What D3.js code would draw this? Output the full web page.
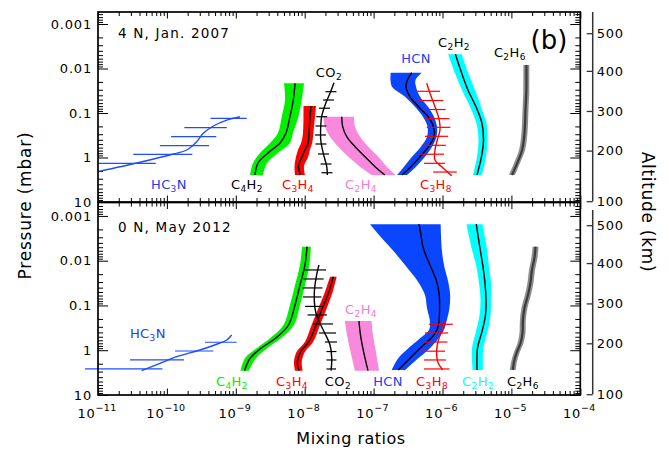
<!DOCTYPE html>
<html>
<head>
<meta charset="utf-8">
<script src="https://cdn.jsdelivr.net/npm/d3@7"></script>
<style>
  body { margin: 0; background: #fff; }
  svg { display: block; font-family: "DejaVu Sans", sans-serif; }
</style>
</head>
<body>
<svg id="chart" width="669" height="452"></svg>
<script>
// ---------------------------------------------------------------
// Vertical profiles of Titan's stratospheric composition.
// Band profiles: [pressure (mbar), low, retrieved, high]
// Error-bar profiles: line [pressure, value], bars [pressure, low, high]
// ---------------------------------------------------------------

const panelTitles = ["4 N, Jan. 2007", "0 N, May 2012"];
const yTickValues = [0.001, 0.01, 0.1, 1, 10];
const yTickLabels = ["0.001", "0.01", "0.1", "1", "10"];
const xTickExponents = [-11, -10, -9, -8, -7, -6, -5, -4];
const altitudeKm = [100, 200, 300, 400, 500];
const altitudePressure = [9.6, 0.70, 0.090, 0.0113, 0.00161];

// ---- 4 N, Jan. 2007 ----
const hc3nLine07 = [[2.08, 1.0e-11], [1.28, 4.07e-11], [0.834, 1.24e-10], [0.678, 1.94e-10],
  [0.441, 2.71e-10], [0.286, 3.37e-10], [0.196, 4.72e-10], [0.144, 7.4e-10], [0.121, 1.15e-9]];
const hc3nBars07 = [[0.1315, 4.3e-10, 1.44e-9], [0.214, 1.79e-10, 7.4e-10], [0.341, 1.15e-10, 5.2e-10],
  [0.543, 7.9e-11, 4.1e-10], [0.847, 3.25e-11, 2.34e-10], [1.35, 1.0e-11, 6.9e-11]];
const c4h2_07 = [[0.0215, 5.0e-9, 7.24e-9, 9.77e-9], [0.051, 5.18e-9, 6.83e-9, 9.06e-9],
  [0.121, 4.64e-9, 6.11e-9, 8.08e-9], [0.281, 4.09e-9, 5.35e-9, 6.76e-9],
  [0.472, 3.14e-9, 4.38e-9, 6.11e-9], [0.79, 2.25e-9, 2.93e-9, 4.09e-9],
  [1.33, 1.78e-9, 2.10e-9, 2.84e-9], [2.47, 1.61e-9, 1.90e-9, 2.48e-9]];
const c3h4_07 = [[0.07, 9.6e-9, 1.23e-8, 1.46e-8], [0.281, 9.45e-9, 1.15e-8, 1.34e-8],
  [0.48, 8.83e-9, 1.12e-8, 1.28e-8], [0.678, 7.98e-9, 1.01e-8, 1.19e-8],
  [0.97, 7.47e-9, 9.14e-9, 1.12e-8], [1.55, 7.12e-9, 8.12e-9, 9.77e-9],
  [2.47, 7.24e-9, 8.68e-9, 1.01e-8]];
const co2Line07 = [[0.0208, 2.66e-8], [0.036, 2.33e-8], [0.0605, 2.02e-8], [0.121, 1.76e-8],
  [0.203, 1.71e-8], [0.405, 1.71e-8], [0.805, 1.86e-8], [1.61, 2.09e-8], [2.47, 2.13e-8]];
const co2Bars07 = [[0.0332, 2.00e-8, 2.89e-8], [0.051, 1.84e-8, 2.66e-8], [0.078, 1.61e-8, 2.33e-8],
  [0.121, 1.47e-8, 2.12e-8], [0.196, 1.43e-8, 2.06e-8], [0.312, 1.41e-8, 2.04e-8],
  [0.497, 1.43e-8, 2.07e-8], [0.834, 1.56e-8, 2.25e-8], [1.40, 1.70e-8, 2.45e-8],
  [2.20, 1.75e-8, 2.53e-8]];
const c2h4_07 = [[0.121, 1.86e-8, 3.45e-8, 5.2e-8], [0.203, 1.97e-8, 3.56e-8, 5.38e-8],
  [0.341, 2.33e-8, 4.07e-8, 6.35e-8], [0.572, 3.07e-8, 5.38e-8, 8.37e-8],
  [0.96, 4.30e-8, 7.5e-8, 1.17e-7], [1.61, 6.35e-8, 1.05e-7, 1.55e-7],
  [2.47, 9.39e-8, 1.46e-7, 2.09e-7]];
const hcn07 = [[0.0124, 1.77e-7, 3.57e-7, 4.99e-7], [0.0181, 1.76e-7, 3.10e-7, 4.06e-7],
  [0.0256, 1.85e-7, 2.95e-7, 4.13e-7], [0.0430, 2.86e-7, 3.37e-7, 4.72e-7],
  [0.0721, 3.99e-7, 4.49e-7, 6.16e-7], [0.121, 5.21e-7, 6.16e-7, 7.53e-7],
  [0.203, 6.06e-7, 7.40e-7, 8.32e-7], [0.341, 5.96e-7, 7.53e-7, 8.18e-7],
  [0.572, 4.87e-7, 6.27e-7, 7.05e-7], [0.96, 3.61e-7, 4.72e-7, 5.57e-7],
  [1.61, 2.76e-7, 3.49e-7, 4.13e-7], [2.47, 2.19e-7, 2.58e-7, 3.05e-7]];
const c3h8Line07 = [[0.0215, 5.90e-7], [0.036, 6.58e-7], [0.0721, 7.78e-7], [0.144, 8.97e-7],
  [0.241, 9.19e-7], [0.405, 8.40e-7], [0.678, 7.78e-7], [1.14, 7.78e-7], [1.61, 9.73e-7],
  [2.56, 1.36e-6]];
const c3h8Bars07 = [[0.0325, 3.99e-7, 9.19e-7], [0.0524, 4.45e-7, 1.03e-6], [0.0834, 4.99e-7, 1.11e-6],
  [0.134, 5.57e-7, 1.26e-6], [0.21, 5.90e-7, 1.30e-6], [0.334, 5.57e-7, 1.21e-6],
  [0.532, 4.99e-7, 1.12e-6], [0.843, 4.72e-7, 1.05e-6], [1.35, 5.39e-7, 1.09e-6],
  [2.12, 7.35e-7, 1.61e-6]];
const c2h2_07 = [[0.0048, 1.21e-6, 1.54e-6, 1.90e-6], [0.0128, 1.52e-6, 1.90e-6, 2.37e-6],
  [0.0304, 1.92e-6, 2.34e-6, 2.96e-6], [0.0721, 2.51e-6, 3.06e-6, 3.62e-6],
  [0.170, 3.11e-6, 3.74e-6, 4.35e-6], [0.405, 3.33e-6, 3.94e-6, 4.50e-6],
  [0.96, 3.17e-6, 3.68e-6, 4.28e-6], [2.47, 2.77e-6, 3.17e-6, 3.74e-6]];
const c2h6_07 = [[0.00834, 1.49e-5, 1.65e-5, 1.82e-5], [0.0304, 1.49e-5, 1.65e-5, 1.82e-5],
  [0.0857, 1.45e-5, 1.60e-5, 1.77e-5], [0.281, 1.40e-5, 1.55e-5, 1.71e-5],
  [0.678, 1.29e-5, 1.43e-5, 1.58e-5], [1.35, 1.09e-5, 1.21e-5, 1.33e-5],
  [2.47, 9.22e-6, 1.02e-5, 1.13e-5]];

// ---- 0 N, May 2012 ----
const hc3nLine12 = [[2.86, 4.30e-11], [1.96, 7.94e-11], [1.39, 1.39e-10], [0.987, 3.02e-10],
  [0.736, 5.28e-10], [0.59, 7.4e-10], [0.456, 8.7e-10]];
const hc3nBars12 = [[2.62, 6.5e-12, 8.6e-11], [1.65, 2.91e-11, 1.77e-10], [1.04, 1.31e-10, 4.72e-10],
  [0.664, 3.57e-10, 1.03e-9]];
const c4h2_12 = [[0.00485, 9.14e-9, 1.08e-8, 1.23e-8], [0.01245, 8.55e-9, 1.01e-8, 1.17e-8],
  [0.0348, 7.24e-9, 8.55e-9, 1.01e-8], [0.0975, 6.11e-9, 7.24e-9, 8.55e-9],
  [0.273, 4.92e-9, 5.82e-9, 6.99e-9], [0.541, 3.14e-9, 3.77e-9, 4.53e-9],
  [0.904, 2.01e-9, 2.32e-9, 2.84e-9], [1.51, 1.36e-9, 1.61e-9, 1.96e-9],
  [2.86, 1.17e-9, 1.34e-9, 1.55e-9]];
const c3h4_12 = [[0.0227, 2.33e-8, 2.60e-8, 2.91e-8], [0.0492, 1.97e-8, 2.25e-8, 2.55e-8],
  [0.1156, 1.58e-8, 1.80e-8, 2.09e-8], [0.273, 1.26e-8, 1.46e-8, 1.67e-8],
  [0.644, 1.01e-8, 1.15e-8, 1.33e-8], [1.08, 7.65e-9, 8.76e-9, 1.01e-8],
  [1.80, 6.99e-9, 7.82e-9, 9.06e-9], [2.86, 7.24e-9, 8.25e-9, 9.36e-9]];
const co2Line12 = [[0.01245, 1.61e-8], [0.0208, 1.49e-8], [0.0492, 1.38e-8], [0.1156, 1.41e-8],
  [0.193, 1.54e-8], [0.385, 1.91e-8], [0.763, 2.33e-8], [1.51, 2.47e-8], [2.86, 2.41e-8]];
const co2Bars12 = [[0.0161, 1.01e-8, 2.04e-8], [0.0256, 9.6e-9, 1.88e-8], [0.0406, 9.28e-9, 1.81e-8],
  [0.0646, 9.45e-9, 1.75e-8], [0.105, 1.01e-8, 1.84e-8], [0.163, 1.10e-8, 2.11e-8],
  [0.259, 1.32e-8, 2.58e-8], [0.412, 1.61e-8, 2.85e-8], [0.655, 1.97e-8, 2.94e-8],
  [1.07, 2.07e-8, 2.89e-8], [1.65, 2.07e-8, 2.89e-8], [2.62, 2.07e-8, 2.85e-8]];
const c2h4_12 = [[0.222, 3.84e-8, 6.13e-8, 9.33e-8], [0.456, 4.11e-8, 6.45e-8, 9.8e-8],
  [1.08, 4.62e-8, 7.15e-8, 1.08e-7], [2.86, 5.38e-8, 8.29e-8, 1.20e-7]];
const hcn12 = [[0.00153, 8.89e-8, 4.56e-7, 9.41e-7], [0.00266, 1.20e-7, 4.87e-7, 9.51e-7],
  [0.00527, 1.79e-7, 5.26e-7, 9.73e-7], [0.01245, 2.86e-7, 6.58e-7, 1.05e-6],
  [0.0294, 4.41e-7, 8.23e-7, 1.21e-6], [0.0582, 5.57e-7, 8.97e-7, 1.29e-6],
  [0.1156, 5.96e-7, 9.06e-7, 1.26e-6], [0.230, 6.58e-7, 8.89e-7, 1.14e-6],
  [0.352, 6.36e-7, 8.32e-7, 1.05e-6], [0.541, 4.72e-7, 6.81e-7, 8.76e-7],
  [0.904, 3.19e-7, 4.72e-7, 6.58e-7], [1.51, 2.28e-7, 3.37e-7, 4.45e-7],
  [2.76, 1.83e-7, 2.28e-7, 2.86e-7]];
const c3h8Line12 = [[0.219, 1.11e-6], [0.456, 9.19e-7], [0.763, 8.40e-7], [1.28, 8.23e-7],
  [1.96, 8.68e-7], [2.76, 1.01e-6]];
const c3h8Bars12 = [[0.263, 6.36e-7, 1.41e-6], [0.412, 5.57e-7, 1.21e-6], [0.655, 5.35e-7, 1.18e-6],
  [1.05, 4.99e-7, 1.09e-6], [1.65, 5.39e-7, 1.12e-6], [2.62, 5.39e-7, 1.26e-6]];
const c2h2_12 = [[0.00153, 2.23e-6, 3.09e-6, 3.81e-6], [0.00527, 2.65e-6, 3.50e-6, 4.42e-6],
  [0.0136, 3.11e-6, 3.87e-6, 4.73e-6], [0.0319, 3.39e-6, 4.14e-6, 5.06e-6],
  [0.0753, 3.56e-6, 4.28e-6, 5.06e-6], [0.163, 3.45e-6, 4.21e-6, 4.98e-6],
  [0.385, 3.06e-6, 3.74e-6, 4.50e-6], [0.904, 2.68e-6, 3.22e-6, 3.91e-6],
  [2.76, 2.74e-6, 3.17e-6, 3.87e-6]];
const c2h6_12 = [[0.00485, 2.03e-5, 2.24e-5, 2.48e-5], [0.00868, 1.95e-5, 2.16e-5, 2.39e-5],
  [0.0161, 1.80e-5, 1.99e-5, 2.20e-5], [0.0314, 1.71e-5, 1.89e-5, 2.09e-5],
  [0.0582, 1.57e-5, 1.74e-5, 1.92e-5], [0.1138, 1.40e-5, 1.55e-5, 1.71e-5],
  [0.211, 1.33e-5, 1.47e-5, 1.62e-5], [0.412, 1.31e-5, 1.45e-5, 1.60e-5],
  [0.689, 1.23e-5, 1.36e-5, 1.50e-5], [1.15, 1.08e-5, 1.19e-5, 1.31e-5],
  [1.83, 9.9e-6, 1.09e-5, 1.20e-5], [2.76, 9.5e-6, 1.05e-5, 1.16e-5]];

// Species name tags, anchored in data space [mixing ratio, pressure]
const tags07 = [
  ["HC3N", 1.07e-10, 5.1, "blue"], ["C4H2", 1.45e-9, 5.1, "black"], ["C3H4", 7.98e-9, 5.1, "red"],
  ["C2H4", 6.56e-8, 5.1, "pink"], ["C3H8", 8.04e-7, 5.1, "red"], ["HCN", 4.13e-7, 0.0075, "blue"],
  ["C2H2", 1.47e-6, 0.00329, "black"], ["C2H6", 9.5e-6, 0.00552, "black"], ["CO2", 2.25e-8, 0.0155, "black"]];
const tags12 = [
  ["HC3N", 5.3e-11, 0.532, "blue"], ["C4H2", 8.8e-10, 6.3, "green"], ["C3H4", 6.55e-9, 6.3, "red"],
  ["CO2", 3.04e-8, 6.3, "black"], ["C2H4", 6.56e-8, 0.155, "pink"], ["HCN", 1.62e-7, 6.3, "blue"],
  ["C3H8", 7.05e-7, 6.3, "red"], ["C2H2", 3.28e-6, 6.3, "cyan"], ["C2H6", 1.47e-5, 6.3, "black"]];

// ---------------------------------------------------------------
const palette = {
  green: "#00f000", red: "#ff0000", pink: "#f889dc", blue: "#0a46ff",
  cyan: "#00ffff", gray: "#8e8e8e", black: "#000000", lineBlue: "#1f4cff", tagBlue: "#2040f0",
  tagPink: "#f37bd6"
};

const svg = d3.select("#chart");
const x = d3.scaleLog().domain([1e-11, 1e-4]).range([98, 580.3]);

const panels = [
  {
    title: panelTitles[0], top: 12, bottom: 202, pTop: Math.pow(10, -3.27), altTop: 12,
    bands: [[c4h2_07, "green"], [c3h4_07, "red"], [c2h4_07, "pink"], [hcn07, "blue"],
            [c2h2_07, "cyan"], [c2h6_07, "gray"]],
    bars: [[hc3nLine07, hc3nBars07, "lineBlue"], [co2Line07, co2Bars07, "black"],
           [c3h8Line07, c3h8Bars07, "red"]],
    tags: tags07, tagBase: 189
  },
  {
    title: panelTitles[1], top: 202.5, bottom: 395, pTop: Math.pow(10, -3.30), altTop: 210,
    bands: [[c4h2_12, "green"], [c3h4_12, "red"], [c2h4_12, "pink"], [hcn12, "blue"],
            [c2h2_12, "cyan"], [c2h6_12, "gray"]],
    bars: [[hc3nLine12, hc3nBars12, "lineBlue"], [co2Line12, co2Bars12, "black"],
           [c3h8Line12, c3h8Bars12, "red"]],
    tags: tags12, tagBase: 386
  }
];

const curve = d3.curveCatmullRom.alpha(0.5);

function formula(g, str, px, py, color) {
  const t = g.append("text")
    .attr("x", px).attr("y", py)
    .attr("text-anchor", "middle")
    .attr("fill", color)
    .attr("font-size", 13)
    .attr("letter-spacing", 0.4);
  let lowered = false;
  (str.match(/[A-Za-z]+|\d+/g) || []).forEach(part => {
    const ts = t.append("tspan").text(part);
    if (/\d/.test(part)) {
      ts.attr("font-size", 9).attr("dy", 3);
      lowered = true;
    } else if (lowered) {
      ts.attr("dy", -3);
      lowered = false;
    }
  });
}

const xMinor = [];
for (let e = -11; e < -4; e++) for (let m = 2; m <= 9; m++) xMinor.push(m * Math.pow(10, e));
const xMajor = xTickExponents.map(e => Math.pow(10, e));

panels.forEach((pd, idx) => {
  const y = d3.scaleLog().domain([10, pd.pTop]).range([pd.bottom, pd.top]);
  const g = svg.append("g");

  // minor pressure ticks
  const yMinor = [];
  for (let e = -4; e <= 0; e++) for (let m = 2; m <= 9; m++) {
    const v = m * Math.pow(10, e);
    if (v >= pd.pTop && v <= 10) yMinor.push(v);
  }

  const tickG = g.append("g").attr("stroke-width", 1);
  // left / right frame ticks (inward)
  tickG.append("g").attr("transform", "translate(98,0)")
    .call(d3.axisLeft(y).tickValues(yMinor).tickSize(-5).tickFormat(""));
  tickG.append("g").attr("transform", "translate(580.3,0)")
    .call(d3.axisRight(y).tickValues(yMinor).tickSize(-5).tickFormat(""));
  tickG.append("g").attr("transform", "translate(580.3,0)")
    .call(d3.axisRight(y).tickValues(yTickValues).tickSize(-10).tickFormat(""));
  const yLab = tickG.append("g").attr("transform", "translate(98,0)")
    .call(d3.axisLeft(y).tickValues(yTickValues).tickSize(-10).tickPadding(6)
      .tickFormat((d, i) => yTickLabels[i]));
  yLab.selectAll("text")
    .attr("font-family", "DejaVu Sans, sans-serif")
    .attr("font-size", 13).attr("letter-spacing", 0.8).attr("fill", "#000");

  // top / bottom frame ticks (inward)
  [pd.top, pd.bottom].forEach((yy, k) => {
    const ax = k === 0 ? d3.axisTop : d3.axisBottom;
    tickG.append("g").attr("transform", `translate(0,${yy})`)
      .call(ax(x).tickValues(xMinor).tickSize(-4).tickFormat(""));
    tickG.append("g").attr("transform", `translate(0,${yy})`)
      .call(ax(x).tickValues(xMajor).tickSize(-6.5).tickFormat(""));
  });
  tickG.selectAll(".domain").remove();
  tickG.selectAll(".tick line").attr("stroke", "#000");

  // bands with retrieved profile
  pd.bands.forEach(([data, col]) => {
    const area = d3.area().curve(curve)
      .y(d => y(d[0])).x0(d => x(d[1])).x1(d => x(d[3]));
    g.append("path").attr("d", area(data)).attr("fill", palette[col]).attr("stroke", "none");
    const line = d3.line().curve(curve).x(d => x(d[2])).y(d => y(d[0]));
    g.append("path").attr("d", line(data)).attr("fill", "none")
      .attr("stroke", col === "gray" ? "#3c3c3c" : "#000")
      .attr("stroke-width", col === "gray" ? 2.2 : 1.4);
  });

  // profiles with horizontal error bars
  pd.bars.forEach(([lineData, barData, col]) => {
    const line = d3.line().curve(curve).x(d => x(d[1])).y(d => y(d[0]));
    g.append("path").attr("d", line(lineData)).attr("fill", "none")
      .attr("stroke", palette[col]).attr("stroke-width", 1.4);
    g.selectAll(null).data(barData).enter().append("line")
      .attr("x1", d => x(d[1])).attr("x2", d => x(d[2]))
      .attr("y1", d => y(d[0])).attr("y2", d => y(d[0]))
      .attr("stroke", palette[col]).attr("stroke-width", 1.2);
  });

  // frame
  g.append("rect").attr("x", 98).attr("y", pd.top)
    .attr("width", 580.3 - 98).attr("height", pd.bottom - pd.top)
    .attr("fill", "none").attr("stroke", "#000").attr("stroke-width", 1.7);

  // altitude axis
  const altToLogP = d3.scaleLinear().domain(altitudeKm).range(altitudePressure.map(Math.log10));
  const altScale = d3.scaleLinear().domain(altitudeKm)
    .range(altitudeKm.map(k => y(Math.pow(10, altToLogP(k)))));
  const altG = g.append("g").attr("transform", "translate(592.7,0)")
    .call(d3.axisRight(altScale).tickValues(altitudeKm).tickSize(-6).tickSizeOuter(0).tickPadding(4));
  altG.select(".domain").remove();
  altG.selectAll(".tick line").attr("stroke", "#333").attr("stroke-width", 1.3);
  altG.selectAll("text").attr("font-family", "DejaVu Sans, sans-serif")
    .attr("font-size", 13).attr("letter-spacing", 0.8).attr("fill", "#000");
  altG.append("line").attr("x1", 0).attr("x2", 0)
    .attr("y1", pd.altTop).attr("y2", altScale(altitudeKm[0]))
    .attr("stroke", "#333").attr("stroke-width", 1.5);

  // panel title
  g.append("text").attr("x", 118).attr("y", pd.top + (idx === 0 ? 26 : 29.5))
    .attr("font-size", 13.5).attr("letter-spacing", 1.2).attr("fill", "#000")
    .text(pd.title);

  // species tags
  const tagColor = { blue: palette.tagBlue, black: "#000", red: palette.red, pink: palette.tagPink,
                     green: palette.green, cyan: palette.cyan };
  pd.tags.forEach(([name, v, p, col]) => {
    formula(g, name, x(v), y(p), tagColor[col]);
  });

  // x tick labels under the lower panel
  if (idx === 1) {
    xTickExponents.forEach(e => {
      const t = svg.append("text").attr("x", x(Math.pow(10, e)) - 1).attr("y", 418)
        .attr("text-anchor", "middle").attr("fill", "#000");
      t.append("tspan").attr("font-size", 13).attr("letter-spacing", 0.8).text("10");
      t.append("tspan").attr("font-size", 9.5).attr("dy", -7.5).attr("letter-spacing", 0.3)
        .text("\u2212" + Math.abs(e));
    });
  }
});

// panel tag
svg.append("text").attr("x", 549).attr("y", 48.5).attr("text-anchor", "middle")
  .attr("font-size", 26).attr("fill", "#000").text("(b)");

// axis titles
svg.append("text").attr("x", 351).attr("y", 444).attr("text-anchor", "middle")
  .attr("font-size", 16).attr("letter-spacing", 0.5).attr("fill", "#000").text("Mixing ratios");
svg.append("text").attr("transform", "translate(31,205.5) rotate(-90)")
  .attr("text-anchor", "middle").attr("font-size", 17).attr("letter-spacing", 0.8)
  .attr("fill", "#000").text("Pressure (mbar)");
svg.append("text").attr("transform", "translate(642,212) rotate(90)")
  .attr("text-anchor", "middle").attr("font-size", 17).attr("letter-spacing", 0.7)
  .attr("fill", "#000").text("Altitude (km)");
</script>
</body>
</html>
